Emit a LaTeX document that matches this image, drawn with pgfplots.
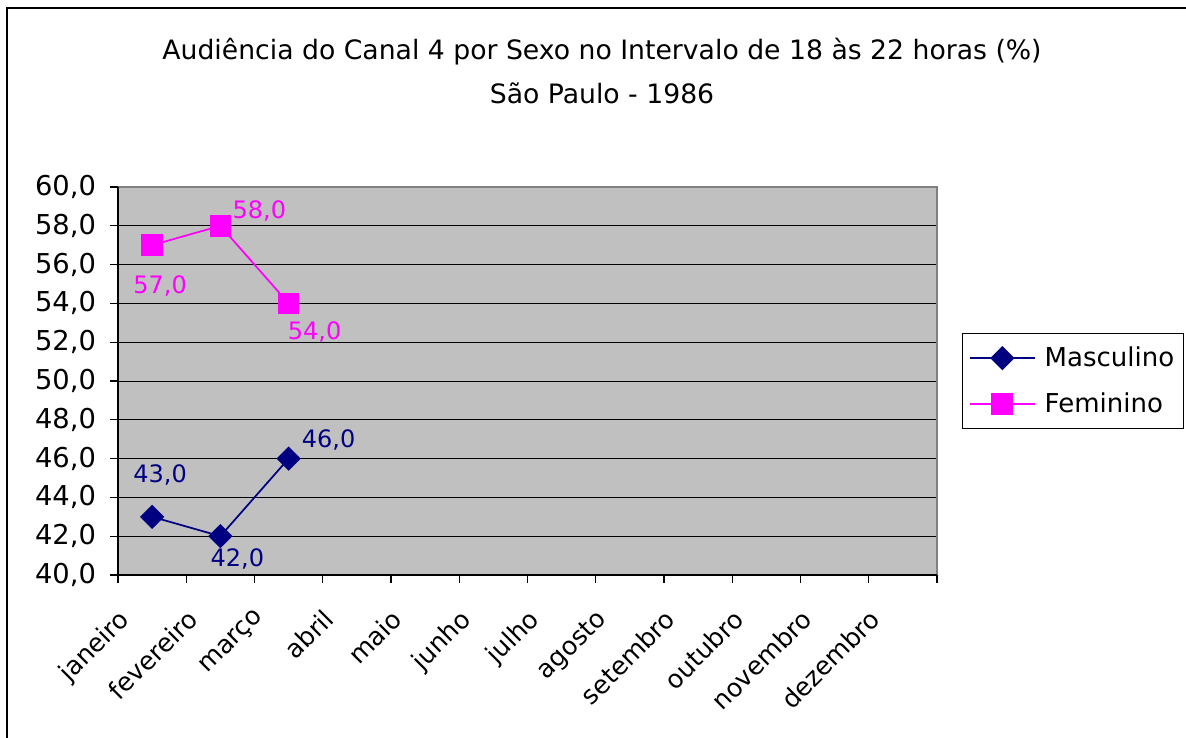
\documentclass[border=0pt]{standalone}
\usepackage{fontspec}
\setmainfont{DejaVu Sans}
\usepackage{pgfplots}
\pgfplotsset{compat=1.18}
\usepackage{pgfplotstable}
\definecolor{plotbg}{HTML}{C0C0C0}
\definecolor{masc}{HTML}{000080}
\definecolor{fem}{HTML}{FF00FF}
\definecolor{bordergray}{HTML}{808080}

% x = month index, dx/dy = label offset in pt
\pgfplotstableread{
x y dx dy
1 43 6 31
2 42 12.75 -17.25
3 46 30 14.25
}\mascdata
\pgfplotstableread{
x y dx dy
1 57 6 -30.75
2 58 29.25 11.25
3 54 19.5 -21.75
}\femdata

\begin{document}
\begin{tikzpicture}[x=0.75pt,y=0.75pt]
\useasboundingbox (0,0) rectangle (1186,738);
\draw[line width=1.2pt] (7,-20) -- (7,730) -- (1200,730);
\node[font=\fontsize{20}{24}\selectfont] at (602,686) {Audiência do Canal 4 por Sexo no Intervalo de 18 às 22 horas (\%)};
\node[font=\fontsize{20}{24}\selectfont] at (602,645) {São Paulo - 1986};
\begin{axis}[
  at={(88.5pt,122.25pt)}, anchor=south west,
  scale only axis, width=614.25pt, height=291pt,
  xmin=0.5, xmax=12.5, ymin=40, ymax=60,
  ytick={40,42,...,60},
  xtick={1,...,12},
  xticklabels={janeiro,fevereiro,março,abril,maio,junho,julho,agosto,setembro,outubro,novembro,dezembro},
  minor xtick={0.5,1.5,...,12.5},
  tick pos=left, tick align=outside,
  major tick length=6pt, minor tick length=6pt,
  major x tick style={draw=none},
  every tick/.style={black, line width=0.8pt},
  axis line style={draw=none},
  axis background/.style={fill=plotbg},
  ymajorgrids, major grid style={black, line width=0.6pt},
  /pgf/number format/assume math mode=true,
  yticklabel style={font=\fontsize{20.5}{24}\selectfont, xshift=-7pt,
    /pgf/number format/fixed, /pgf/number format/fixed zerofill,
    /pgf/number format/precision=1, /pgf/number format/use comma},
  xticklabel style={font=\fontsize{19}{22}\selectfont, rotate=45, anchor=north east,
    xshift=-28pt, yshift=9pt},
  legend style={at={(1.0305,0.5)}, anchor=west, draw=black, line width=0.8pt,
    font=\fontsize{19.5}{23}\selectfont, row sep=14pt, inner xsep=5pt, inner ysep=8pt,
    cells={anchor=west}},
  legend image code/.code={\draw[mark repeat=2, mark phase=2]
    plot coordinates {(0cm,0cm) (0.85cm,0cm) (1.7cm,0cm)};},
  nodes near coords={\pgfmathprintnumber[fixed,fixed zerofill,precision=1,use comma,assume math mode=true]{\pgfplotspointmeta}},
  visualization depends on={\thisrow{dx} \as \dx},
  visualization depends on={\thisrow{dy} \as \dy},
  nodes near coords style={anchor=center, xshift=\dx pt, yshift=\dy pt, font=\fontsize{18}{21}\selectfont},
  clip=false,
]
\addplot[masc, line width=1.3pt, mark=square*, mark size=5.8pt,
  mark options={rotate=45, solid}, nodes near coords style={masc}] table[x=x,y=y] {\mascdata};
\addlegendentry{\hspace{5pt}Masculino}
\addplot[fem, line width=1.3pt, mark=square*, mark size=7.5pt,
  mark options={solid}, nodes near coords style={fem}] table[x=x,y=y] {\femdata};
\addlegendentry{\hspace{5pt}Feminino}
\draw[bordergray, line width=1.5pt] (rel axis cs:0,1) -- (rel axis cs:1,1) -- (rel axis cs:1,0);
\draw[black, line width=1pt] (rel axis cs:0,1) -- (rel axis cs:0,0) -- (rel axis cs:1,0);
\end{axis}
\end{tikzpicture}
\end{document}
